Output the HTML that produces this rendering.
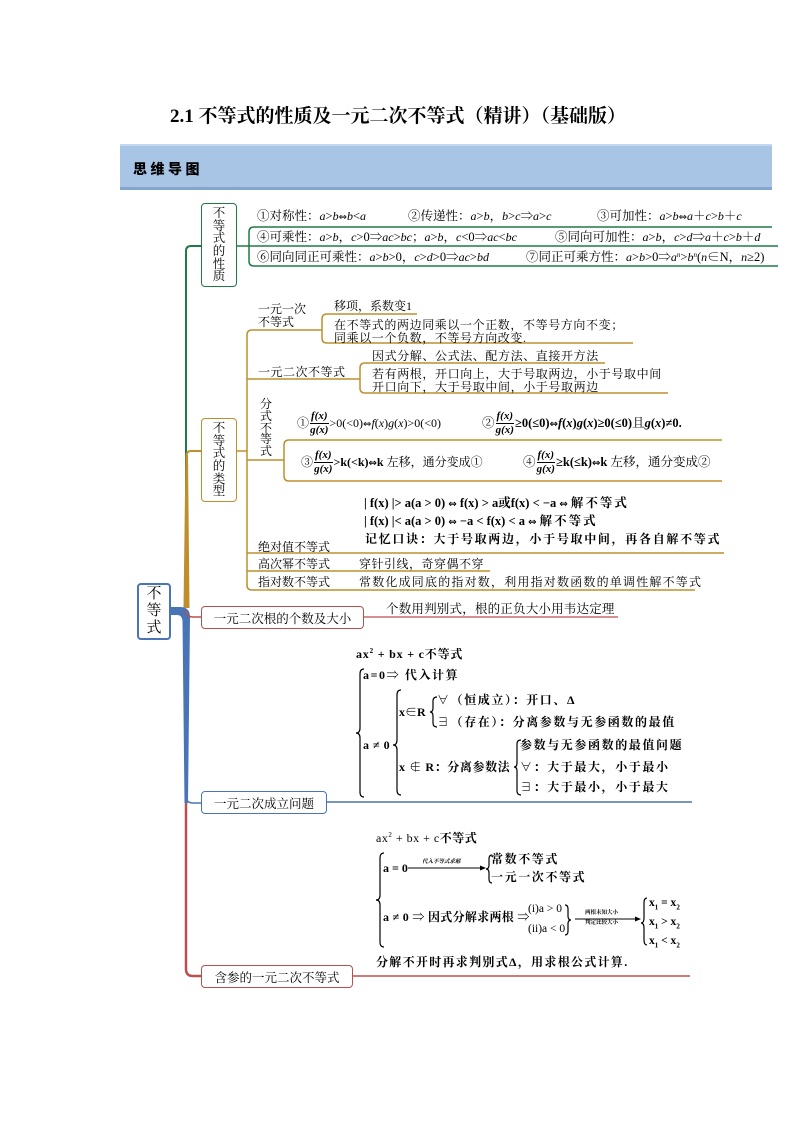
<!DOCTYPE html>
<html><head><meta charset="utf-8"><style>
*{box-sizing:border-box}
body{margin:0;background:#fff}
#p{position:relative;width:794px;height:1123px;overflow:hidden;background:#fff;font-family:"Liberation Serif","Noto Serif CJK SC",serif;color:#000}
.t{position:absolute;white-space:nowrap;line-height:1}
i{font-style:italic;font-family:"Liberation Serif",serif}
.ar{font-family:"DejaVu Sans",sans-serif;font-size:10px;font-style:normal}
.row{position:absolute;display:flex;align-items:center;white-space:nowrap;height:26px;font-size:12px;line-height:1}
.f{display:inline-block;text-align:center;line-height:1;font-style:italic;font-family:"Liberation Serif",serif;font-size:11px;margin:0 1px;font-weight:bold}
.f b{display:block}
.f b:first-child{border-bottom:1px solid #000;padding:0 1px 1px}
.f b:last-child{padding-top:1px}
.box{position:absolute;border-radius:4px;background:#fff;display:flex;align-items:center;justify-content:center;text-align:center}
.v{line-height:12.6px;font-size:12.5px}
.k{font-family:"Liberation Serif","Noto Serif CJK SC",serif;font-weight:bold;font-size:12px;letter-spacing:1.6px}
.s{font-size:12px}
.pr{font-size:12.5px}
.pr i{font-size:12px}
</style></head><body><div id="p">

<div class="t" style="left:170px;top:107px;font-size:19px;font-weight:bold;">2.1 不等式的性质及一元二次不等式（精讲）（基础版）</div>

<div style="position:absolute;left:120px;top:144px;width:652px;height:46px;background:#a8c5e6;border-top:2px solid #c3d7ee;border-bottom:3px solid #86a5cc;"></div>
<div class="t" style="left:133px;top:162px;font-size:14px;font-weight:900;letter-spacing:3.5px;font-family:'Noto Sans CJK SC',sans-serif;">思维导图</div>

<svg width="794" height="1123" style="position:absolute;left:0;top:0" fill="none">
<path d="M201 246 H191 Q186 246 186 251 V606" stroke="#1f7a45" stroke-width="2"/>
<path d="M237 246 H778" stroke="#1f7a45" stroke-width="1.5"/>
<path d="M772 227 H254 Q249 227 249 232 V261 Q249 266 254 266 H778" stroke="#1f7a45" stroke-width="1.5"/>
<path d="M201 451 H191 Q186.5 451 186.5 456" stroke="#bf8f2e" stroke-width="2"/>
<polygon points="185.5,455 188,455 189.5,608 183.5,608" fill="#bf8f2e"/>
<path d="M237 451 H247" stroke="#bf8f2e" stroke-width="1.5"/>
<path d="M322 330 H252 Q247 330 247 335 V585 Q247 590 252 590 H695" stroke="#bf8f2e" stroke-width="1.5"/>
<path d="M247 379 H360" stroke="#bf8f2e" stroke-width="1.5"/>
<path d="M247 460 H284" stroke="#bf8f2e" stroke-width="1.5"/>
<path d="M247 553 H724" stroke="#bf8f2e" stroke-width="1.5"/>
<path d="M247 571 H490" stroke="#bf8f2e" stroke-width="1.5"/>
<path d="M417 314 H327 Q322 314 322 319 V338 Q322 343 327 343 H633" stroke="#bf8f2e" stroke-width="1.5"/>
<path d="M605 363 H365 Q360 363 360 368 V388 Q360 393 365 393 H668" stroke="#bf8f2e" stroke-width="1.5"/>
<path d="M722 440 H289 Q284 440 284 445 V476 Q284 481 289 481 H722" stroke="#bf8f2e" stroke-width="1.5"/>
<path d="M171 607 L180 607 Q190 607 190 617 L188 803 L184.5 803 L182.5 621 Q182 615 177 615 L171 615 Z" fill="#4a74b8"/>
<path d="M185 611 Q187 617 193 617 H202" stroke="#b9504e" stroke-width="1.5"/>
<path d="M364 617 H618" stroke="#b9504e" stroke-width="1.3"/>
<path d="M186 796 Q186 803 193 803 H202" stroke="#4a74b8" stroke-width="1.5"/>
<path d="M327 802 H692" stroke="#4f72ac" stroke-width="1.5"/>
<path d="M186 803 V969 Q186 976 193 976 H202" stroke="#b9504e" stroke-width="2.5"/>
<path d="M352 976 H690" stroke="#b9504e" stroke-width="1.5"/>
<g stroke="#000" stroke-width="1.2">
<path d="M364 669 Q360 669 360 674 V728 Q360 733 356 733 Q360 733 360 738 V792 Q360 797 364 797"/>
<path d="M401 690 Q397 690 397 695 V740 Q397 745 393 745 Q397 745 397 750 V790 Q397 795 401 795"/>
<path d="M437 697 Q433 697 433 701 V708 Q433 712 430 712 Q433 712 433 716 V723 Q433 727 437 727"/>
<path d="M521 740 Q517 740 517 744 V763 Q517 767 514 767 Q517 767 517 771 V791 Q517 795 521 795"/>
<path d="M384 853 Q380 853 380 858 V895 Q380 900 376 900 Q380 900 380 905 V942 Q380 947 384 947"/>
<path d="M492 855 Q489 855 489 859 V865 Q489 869 486 869 Q489 869 489 873 V879 Q489 883 492 883"/>
<path d="M565 905 Q568 905 568 909 V916 Q568 920 571 920 Q568 920 568 924 V931 Q568 935 565 935"/>
<path d="M647 898 Q644 898 644 903 V918 Q644 923 641 923 Q644 923 644 928 V940 Q644 945 647 945"/>
<path d="M408 868 H484" stroke-width="0.9"/>
<path d="M575 919 H639" stroke-width="0.9"/>
</g>
<polygon points="486,868 480,865.5 480,870.5" fill="#000"/>
<polygon points="641,919 635,916.5 635,921.5" fill="#000"/>
</svg>

<div class="box v" style="left:201px;top:203px;width:36px;height:84px;border:1.5px solid #1f7a45;">不<br>等<br>式<br>的<br>性<br>质</div>
<div class="box v" style="left:201px;top:418px;width:36px;height:84px;border:1.5px solid #bf8f2e;">不<br>等<br>式<br>的<br>类<br>型</div>
<div class="box" style="left:137px;top:583px;width:34px;height:57px;border:2.5px solid #4a74b8;font-size:15px;line-height:17px;">不<br>等<br>式</div>
<div class="box" style="left:201px;top:606px;width:163px;height:23px;border:1.3px solid #b9504e;font-size:12.5px;">一元二次根的个数及大小</div>
<div class="box" style="left:201px;top:791px;width:126px;height:23px;border:1.3px solid #4a74b8;font-size:12.5px;">一元二次成立问题</div>
<div class="box" style="left:201px;top:965px;width:152px;height:23px;border:1.3px solid #b9504e;font-size:12.5px;">含参的一元二次不等式</div>

<div class="t pr" style="left:257px;top:210px;">①对称性：<i>a</i>&gt;<i>b</i><span class="ar">⇔</span><i>b</i>&lt;<i>a</i></div>
<div class="t pr" style="left:408px;top:210px;">②传递性：<i>a</i>&gt;<i>b</i>，<i>b</i>&gt;<i>c</i>⇒<i>a</i>&gt;<i>c</i></div>
<div class="t pr" style="left:597px;top:210px;">③可加性：<i>a</i>&gt;<i>b</i><span class="ar">⇔</span><i>a</i>＋<i>c</i>&gt;<i>b</i>＋<i>c</i></div>
<div class="t pr" style="left:257px;top:231px;">④可乘性：<i>a</i>&gt;<i>b</i>，<i>c</i>&gt;0⇒<i>ac</i>&gt;<i>bc</i>；<i>a</i>&gt;<i>b</i>，<i>c</i>&lt;0⇒<i>ac</i>&lt;<i>bc</i></div>
<div class="t pr" style="left:555px;top:231px;">⑤同向可加性：<i>a</i>&gt;<i>b</i>，<i>c</i>&gt;<i>d</i>⇒<i>a</i>＋<i>c</i>&gt;<i>b</i>＋<i>d</i></div>
<div class="t pr" style="left:257px;top:251px;">⑥同向同正可乘性：<i>a</i>&gt;<i>b</i>&gt;0，<i>c</i>&gt;<i>d</i>&gt;0⇒<i>ac</i>&gt;<i>bd</i></div>
<div class="t pr" style="left:526px;top:251px;">⑦同正可乘方性：<i>a</i>&gt;<i>b</i>&gt;0⇒<i>a<sup style="font-size:7px;vertical-align:4px">n</sup></i>&gt;<i>b<sup style="font-size:7px;vertical-align:4px">n</sup></i>(<i>n</i>∈N，<i>n</i>≥2)</div>

<div class="t s" style="left:258px;top:303px;">一元一次</div>
<div class="t s" style="left:258px;top:316px;">不等式</div>
<div class="t s" style="left:334px;top:300px;">移项，系数变1</div>
<div class="t s" style="left:334px;top:319px;letter-spacing:0.6px;">在不等式的两边同乘以一个正数，不等号方向不变；</div>
<div class="t s" style="left:334px;top:332px;letter-spacing:0.6px;">同乘以一个负数，不等号方向改变.</div>
<div class="t s" style="left:258px;top:366px;letter-spacing:0.5px;">一元二次不等式</div>
<div class="t s" style="left:372px;top:350px;letter-spacing:0.6px;">因式分解、公式法、配方法、直接开方法</div>
<div class="t s" style="left:372px;top:368px;letter-spacing:0.6px;">若有两根，开口向上，大于号取两边，小于号取中间</div>
<div class="t s" style="left:372px;top:381px;letter-spacing:0.6px;">开口向下，大于号取中间，小于号取两边</div>
<div class="t" style="left:260px;top:399px;font-size:12px;line-height:11.8px;">分<br>式<br>不<br>等<br>式</div>

<div class="row" style="left:297px;top:410px;">①<span class="f"><b>f(x)</b><b>g(x)</b></span><span>&gt;0(&lt;0)<span class="ar">⇔</span><i>f</i>(<i>x</i>)<i>g</i>(<i>x</i>)&gt;0(&lt;0)</span></div>
<div class="row" style="left:482px;top:410px;font-size:12.5px;">②<span class="f"><b>f(x)</b><b>g(x)</b></span><span style="font-weight:bold">≥0(≤0)<span class="ar">⇔</span><i>f</i>(<i>x</i>)<i>g</i>(<i>x</i>)≥0(≤0)</span>且 <span style="font-weight:bold"><i>g</i>(<i>x</i>)≠0.</span></div>
<div class="row" style="left:301px;top:449px;">③<span class="f"><b>f(x)</b><b>g(x)</b></span><span style="font-weight:bold">&gt;k(&lt;k)<span class="ar">⇔</span>k</span>&nbsp;左移，通分变成①</div>
<div class="row" style="left:523px;top:449px;font-size:12.5px;">④<span class="f"><b>f(x)</b><b>g(x)</b></span><span style="font-weight:bold">≥k(≤k)<span class="ar">⇔</span>k</span>&nbsp;左移，通分变成②</div>

<div class="t" style="left:364px;top:497px;font-size:12.5px;font-weight:bold;">| f(x) |&gt; a(a &gt; 0) <span class="ar">⇔</span> f(x) &gt; a或f(x) &lt; −a <span class="ar">⇔</span> <span style="letter-spacing:2px">解不等式</span></div>
<div class="t" style="left:364px;top:515px;font-size:12.5px;font-weight:bold;">| f(x) |&lt; a(a &gt; 0) <span class="ar">⇔</span> −a &lt; f(x) &lt; a <span class="ar">⇔</span> <span style="letter-spacing:2px">解不等式</span></div>
<div class="t k" style="left:365px;top:533px;letter-spacing:1.7px;">记忆口诀：大于号取两边，小于号取中间，再各自解不等式</div>
<div class="t s" style="left:258px;top:541px;">绝对值不等式</div>
<div class="t s" style="left:258px;top:558px;">高次幂不等式</div>
<div class="t s" style="left:359px;top:558px;letter-spacing:0.5px;">穿针引线，奇穿偶不穿</div>
<div class="t s" style="left:258px;top:576px;">指对数不等式</div>
<div class="t s" style="left:359px;top:576px;letter-spacing:1.2px;">常数化成同底的指对数，利用指对数函数的单调性解不等式</div>

<div class="t" style="left:386px;top:603px;font-size:12.5px;letter-spacing:0.2px;">个数用判别式，根的正负大小用韦达定理</div>

<div class="t k" style="left:356px;top:648px;letter-spacing:0.8px;">ax<sup style="font-size:7px;vertical-align:5px">2</sup> + bx + c不等式</div>
<div class="t k" style="left:363px;top:669px;">a=0⇒ 代入计算</div>
<div class="t k" style="left:363px;top:739px;letter-spacing:0.5px;">a ≠ 0</div>
<div class="t k" style="left:399px;top:706px;letter-spacing:0px;">x∈R</div>
<div class="t k" style="left:437px;top:694px;">∀（恒成立）：开口、Δ</div>
<div class="t k" style="left:437px;top:716px;">∃（存在）：分离参数与无参函数的最值</div>
<div class="t k" style="left:399px;top:761px;letter-spacing:0.6px;">x ∉ R：分离参数法</div>
<div class="t k" style="left:520px;top:739px;">参数与无参函数的最值问题</div>
<div class="t k" style="left:520px;top:761px;">∀：大于最大，小于最小</div>
<div class="t k" style="left:520px;top:781px;">∃：大于最小，小于最大</div>

<div class="t" style="left:376px;top:832px;font-size:12px;letter-spacing:0.5px;">ax<sup style="font-size:7px;vertical-align:5px">2</sup> + bx + c<b>不等式</b></div>
<div class="t" style="left:383px;top:862px;font-size:12px;font-weight:bold;">a = 0</div>
<div class="t" style="left:422px;top:860px;font-size:5.5px;font-weight:bold;font-style:italic;">代入不等式求解</div>
<div class="t k" style="left:491px;top:853px;">常数不等式</div>
<div class="t k" style="left:491px;top:871px;">一元一次不等式</div>
<div class="t k" style="left:383px;top:911px;letter-spacing:0.3px;">a ≠ 0 ⇒ 因式分解求两根 ⇒</div>
<div class="t" style="left:528px;top:904px;font-size:11.5px;">(i)a &gt; 0</div>
<div class="t" style="left:528px;top:924px;font-size:11.5px;">(ii)a &lt; 0</div>
<div class="t" style="left:585px;top:911px;font-size:5.5px;font-weight:bold;">两根未知大小</div>
<div class="t" style="left:585px;top:921px;font-size:5.5px;font-weight:bold;">判定比较大小</div>
<div class="t" style="left:649px;top:898px;font-size:11.5px;font-weight:bold;">x<sub style="font-size:7px">1</sub> = x<sub style="font-size:7px">2</sub></div>
<div class="t" style="left:649px;top:917px;font-size:11.5px;font-weight:bold;">x<sub style="font-size:7px">1</sub> &gt; x<sub style="font-size:7px">2</sub></div>
<div class="t" style="left:649px;top:936px;font-size:11.5px;font-weight:bold;">x<sub style="font-size:7px">1</sub> &lt; x<sub style="font-size:7px">2</sub></div>
<div class="t k" style="left:376px;top:956px;letter-spacing:1.3px;">分解不开时再求判别式Δ，用求根公式计算.</div>

</div></body></html>
